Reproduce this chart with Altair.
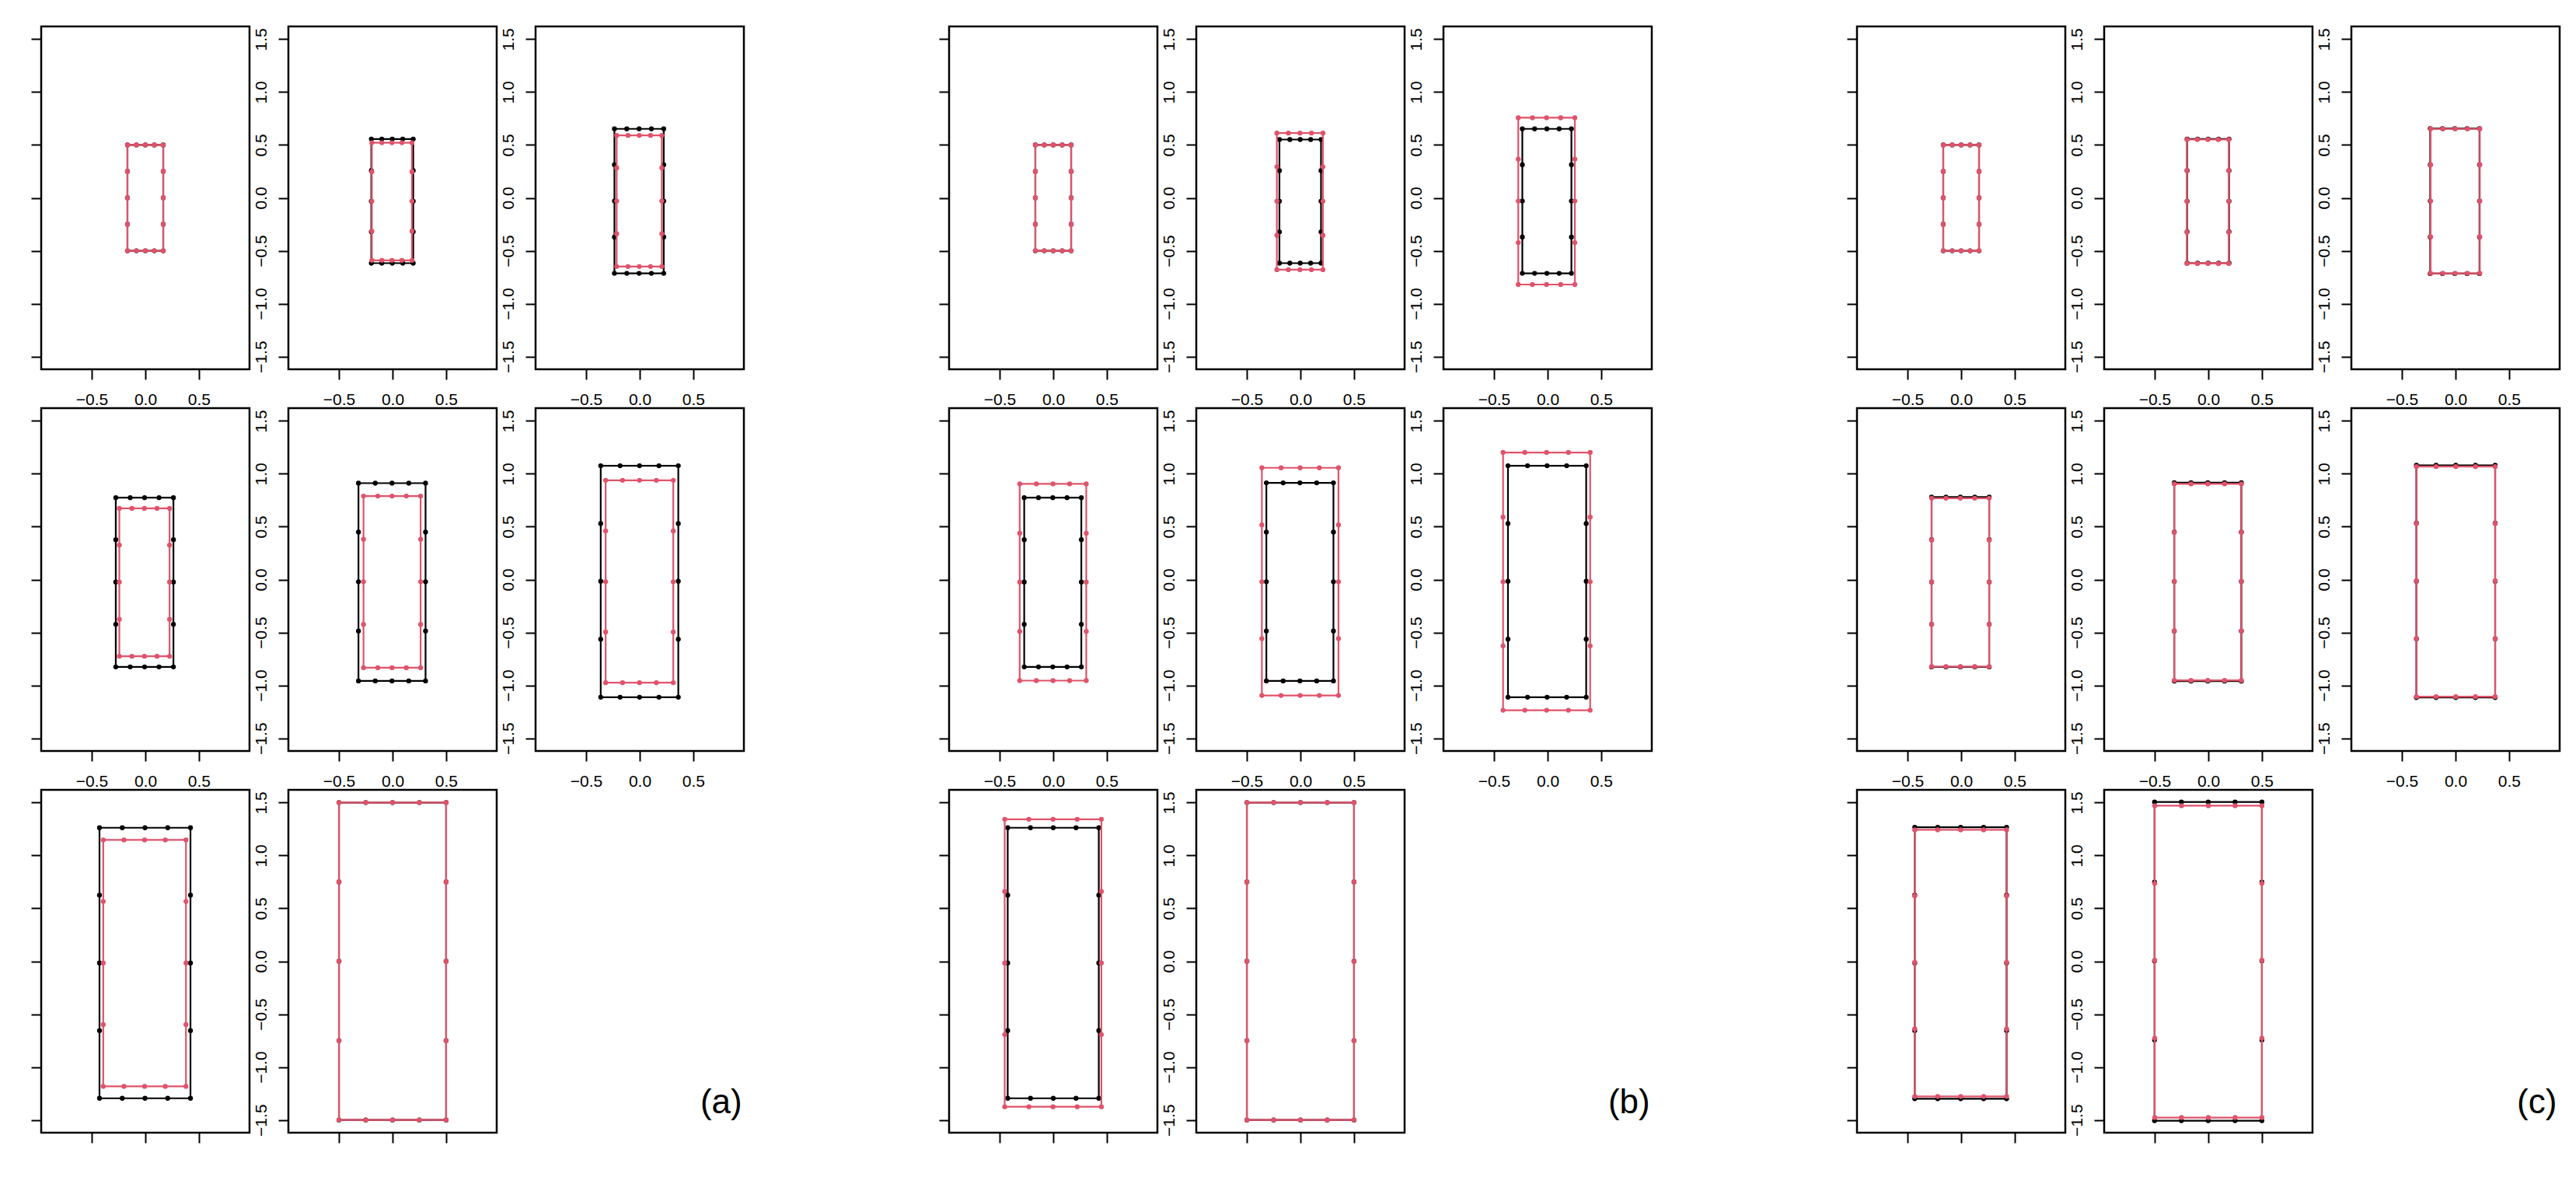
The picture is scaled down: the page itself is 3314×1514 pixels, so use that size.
import altair as alt
import pandas as pd

# ---------------- axis ranges / ticks ----------------
X_DOMAIN = [-0.972, 0.972]
Y_DOMAIN = [-1.62, 1.62]
X_TICKS = [-0.5, 0.0, 0.5]
Y_TICKS = [-1.5, -1.0, -0.5, 0.0, 0.5, 1.0, 1.5]
# node positions along the top / bottom edge of each rectangle (fraction of edge)
EDGE_FRACTIONS = [0.0, 0.25, 0.5, 0.75, 1.0]

GROUP_LABELS = ["(a)", "(b)", "(c)"]
LABEL_X = [0.76, 0.76, 0.76]
LABEL_Y = [-1.34, -1.34, -1.34]
SERIES_COLORS = {"black": "#000000", "red": "#DF536B"}

# each shape: [x_left, x_right, y_top, y_bottom, side_upper, side_mid, side_lower]
A_BLACK = [
    [-0.167, 0.167, 0.500, -0.500, 0.250, 0.000, -0.250],
    [-0.198, 0.193, 0.556, -0.617, 0.258, -0.032, -0.320],
    [-0.236, 0.224, 0.652, -0.713, 0.312, -0.030, -0.371],
    [-0.276, 0.262, 0.774, -0.825, 0.377, -0.023, -0.423],
    [-0.318, 0.308, 0.911, -0.958, 0.448, -0.021, -0.487],
    [-0.364, 0.360, 1.076, -1.112, 0.529, -0.016, -0.563],
    [-0.428, 0.421, 1.262, -1.295, 0.625, -0.016, -0.655],
    [-0.500, 0.500, 1.500, -1.500, 0.750, 0.000, -0.750],
]
A_RED = [
    [-0.167, 0.167, 0.500, -0.500, 0.250, 0.000, -0.250],
    [-0.193, 0.181, 0.521, -0.590, 0.246, -0.032, -0.315],
    [-0.215, 0.206, 0.590, -0.649, 0.283, -0.030, -0.339],
    [-0.243, 0.226, 0.673, -0.725, 0.325, -0.023, -0.376],
    [-0.271, 0.262, 0.789, -0.833, 0.381, -0.021, -0.424],
    [-0.318, 0.313, 0.938, -0.975, 0.460, -0.021, -0.496],
    [-0.393, 0.379, 1.147, -1.182, 0.565, -0.016, -0.598],
    [-0.500, 0.500, 1.500, -1.500, 0.750, 0.000, -0.750],
]
B_BLACK = [
    [-0.167, 0.167, 0.500, -0.500, 0.250, 0.000, -0.250],
    [-0.196, 0.192, 0.551, -0.617, 0.258, -0.032, -0.322],
    [-0.236, 0.222, 0.652, -0.713, 0.312, -0.030, -0.371],
    [-0.271, 0.262, 0.774, -0.825, 0.377, -0.023, -0.423],
    [-0.318, 0.308, 0.914, -0.958, 0.448, -0.021, -0.487],
    [-0.370, 0.360, 1.076, -1.112, 0.529, -0.016, -0.563],
    [-0.425, 0.425, 1.262, -1.295, 0.625, -0.016, -0.655],
    [-0.500, 0.500, 1.500, -1.500, 0.750, 0.000, -0.750],
]
B_RED = [
    [-0.167, 0.167, 0.500, -0.500, 0.250, 0.000, -0.250],
    [-0.220, 0.210, 0.612, -0.679, 0.293, -0.032, -0.354],
    [-0.274, 0.254, 0.757, -0.819, 0.366, -0.030, -0.423],
    [-0.313, 0.308, 0.904, -0.955, 0.438, -0.023, -0.490],
    [-0.360, 0.355, 1.056, -1.095, 0.516, -0.021, -0.558],
    [-0.416, 0.397, 1.201, -1.235, 0.590, -0.021, -0.627],
    [-0.453, 0.449, 1.342, -1.375, 0.660, -0.016, -0.693],
    [-0.500, 0.500, 1.500, -1.500, 0.750, 0.000, -0.750],
]
C_BLACK = [
    [-0.167, 0.167, 0.500, -0.500, 0.250, 0.000, -0.250],
    [-0.198, 0.193, 0.556, -0.617, 0.258, -0.032, -0.320],
    [-0.236, 0.224, 0.655, -0.716, 0.312, -0.030, -0.371],
    [-0.276, 0.262, 0.779, -0.826, 0.377, -0.023, -0.423],
    [-0.318, 0.308, 0.916, -0.960, 0.448, -0.018, -0.487],
    [-0.365, 0.370, 1.080, -1.115, 0.533, -0.016, -0.560],
    [-0.433, 0.424, 1.267, -1.299, 0.625, -0.016, -0.655],
    [-0.502, 0.500, 1.505, -1.507, 0.748, 0.004, -0.743],
]
C_RED = [
    [-0.167, 0.167, 0.500, -0.500, 0.250, 0.000, -0.250],
    [-0.200, 0.190, 0.551, -0.620, 0.258, -0.032, -0.325],
    [-0.232, 0.227, 0.652, -0.713, 0.312, -0.030, -0.369],
    [-0.275, 0.261, 0.769, -0.823, 0.374, -0.023, -0.423],
    [-0.318, 0.308, 0.904, -0.953, 0.445, -0.016, -0.485],
    [-0.365, 0.370, 1.068, -1.107, 0.529, -0.013, -0.558],
    [-0.433, 0.424, 1.242, -1.277, 0.618, -0.011, -0.639],
    [-0.500, 0.500, 1.470, -1.477, 0.736, 0.009, -0.727],
]
GROUPS = [(A_BLACK, A_RED), (B_BLACK, B_RED), (C_BLACK, C_RED)]

PANEL_W = 268
PANEL_H = 441
GAP = 50
GROUP_GAP_W = 164  # blank column between the three groups
FONT = "Liberation Sans"


def shape_nodes(shape):
    xl, xr, yt, yb, s1, s2, s3 = shape
    pts = [(xl + f * (xr - xl), yt) for f in EDGE_FRACTIONS]
    pts += [(xr, s) for s in (s1, s2, s3)]
    pts += [(xr - f * (xr - xl), yb) for f in EDGE_FRACTIONS]
    pts += [(xl, s) for s in (s3, s2, s1)]
    return pts


def x_enc(show_labels):
    return alt.X(
        "x:Q",
        scale=alt.Scale(domain=X_DOMAIN, nice=False, zero=False),
        axis=alt.Axis(values=X_TICKS, format=".1f", labels=show_labels, title=None,
                      labelPadding=15),
    )


def y_enc(show_labels):
    return alt.Y(
        "y:Q",
        scale=alt.Scale(domain=Y_DOMAIN, nice=False, zero=False),
        axis=alt.Axis(values=Y_TICKS, format=".1f", labels=show_labels, title=None,
                      labelAngle=-90, labelAlign="center", labelBaseline="bottom",
                      labelPadding=12),
    )


def panel(black, red, row, col):
    layers = []
    for name, shape in (("black", black), ("red", red)):
        pts = shape_nodes(shape)
        line_df = pd.DataFrame(
            {"x": [p[0] for p in pts] + [pts[0][0]],
             "y": [p[1] for p in pts] + [pts[0][1]],
             "ord": list(range(len(pts) + 1))}
        )
        pt_df = pd.DataFrame({"x": [p[0] for p in pts], "y": [p[1] for p in pts]})
        color = SERIES_COLORS[name]
        layers.append(
            alt.Chart(line_df).mark_line(color=color, strokeWidth=2.2).encode(
                x=x_enc(row < 2), y=y_enc(col > 0), order="ord:Q")
        )
        layers.append(
            alt.Chart(pt_df).mark_circle(color=color, size=40, opacity=1).encode(
                x=x_enc(row < 2), y=y_enc(col > 0))
        )
    return alt.layer(*layers).properties(width=PANEL_W, height=PANEL_H)


def label_cell(g):
    df = pd.DataFrame({"x": [LABEL_X[g]], "y": [LABEL_Y[g]], "label": [GROUP_LABELS[g]]})
    return alt.Chart(df).mark_text(fontSize=44, font=FONT, color="black").encode(
        x=alt.X("x:Q", scale=alt.Scale(domain=X_DOMAIN, nice=False, zero=False), axis=None),
        y=alt.Y("y:Q", scale=alt.Scale(domain=Y_DOMAIN, nice=False, zero=False), axis=None),
        text="label:N",
    ).properties(width=PANEL_W, height=PANEL_H,
                 view=alt.ViewBackground(stroke="transparent"))


def spacer():
    df = pd.DataFrame({"x": [0.0], "y": [0.0]})
    return alt.Chart(df).mark_point(opacity=0).encode(
        x=alt.X("x:Q", axis=None), y=alt.Y("y:Q", axis=None)
    ).properties(width=GROUP_GAP_W, height=PANEL_H,
                 view=alt.ViewBackground(stroke="transparent"))


cells = []
for row in range(3):
    for g, (blacks, reds) in enumerate(GROUPS):
        for col in range(3):
            i = row * 3 + col
            if i < 8:
                cells.append(panel(blacks[i], reds[i], row, col))
            else:
                cells.append(label_cell(g))
        if g < 2:
            cells.append(spacer())

chart = (
    alt.concat(*cells, columns=11, spacing=GAP, bounds="flush", align="each")
    .properties(padding={"left": 29, "top": 24, "right": 5, "bottom": 5})
    .configure_view(stroke="black", strokeWidth=2.5)
    .configure_axis(
        domain=False, grid=False, ticks=True, tickColor="black", tickWidth=2,
        tickSize=13, labelFont=FONT, labelFontSize=21, labelColor="black",
    )
)

chart.save("out.html", embed_options={"renderer": "svg", "actions": False})
